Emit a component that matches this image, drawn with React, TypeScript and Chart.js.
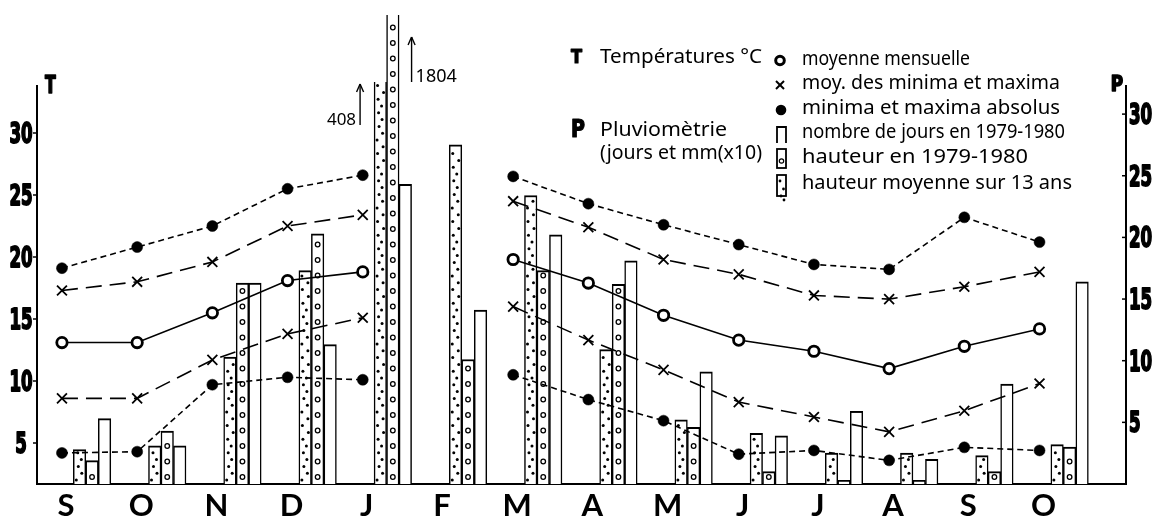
import React, { useEffect, useRef } from 'react';
import { Chart, registerables } from 'chart.js';

Chart.register(...registerables);

// ---------- data ----------
const monthLabels = ['S', 'O', 'N', 'D', 'J', 'F', 'M', 'A', 'M', 'J', 'J', 'A', 'S', 'O'];

// Temperatures (°C) – February has no readings
const tempMoyenne = [13.1, 13.1, 15.5, 18.1, 18.8, null, 19.8, 17.9, 15.3, 13.3, 12.4, 11.0, 12.8, 14.2];
const tempMoyMax = [17.3, 18.0, 19.6, 22.5, 23.4, null, 24.5, 22.4, 19.8, 18.6, 16.9, 16.6, 17.6, 18.8];
const tempMoyMin = [8.6, 8.6, 11.7, 13.8, 15.1, null, 16.0, 13.3, 10.9, 8.3, 7.1, 5.9, 7.6, 9.8];
const tempAbsMax = [19.1, 20.8, 22.5, 25.5, 26.6, null, 26.5, 24.3, 22.6, 21.0, 19.4, 19.0, 23.2, 21.2];
const tempAbsMin = [4.2, 4.3, 9.7, 10.3, 10.1, null, 10.5, 8.5, 6.8, 4.1, 4.4, 3.6, 4.65, 4.4];

// Pluviométrie (jours, and mm / 10)
const pluieMoyenne13ans = [2.8, 3.1, 10.3, 17.3, 40.8, 27.5, 23.4, 10.9, 5.2, 4.1, 2.5, 2.5, 2.3, 3.2];
const pluie1979_1980 = [1.9, 4.3, 16.3, 20.3, 180.4, 10.1, 17.3, 16.2, 4.6, 1.0, 0.3, 0.3, 1.0, 3.0];
const joursPluie1979_1980 = [5.3, 3.1, 16.3, 11.3, 24.3, 14.1, 20.2, 18.1, 9.1, 3.9, 5.9, 2.0, 8.1, 16.4];

const tTicks = [5, 10, 15, 20, 25, 30];
const pTicks = [5, 10, 15, 20, 25, 30];

const GROUP_OFFSET = 0.4;

const BOLD_COND = '"Liberation Sans Narrow", "DejaVu Sans Condensed", "DejaVu Sans"';

// ---------- helpers ----------
function drawScaled(ctx: CanvasRenderingContext2D, text: string, x: number, y: number, font: string, sx: number, align: CanvasTextAlign, heavy = 0) {
  ctx.save();
  ctx.font = font;
  ctx.textAlign = align;
  ctx.textBaseline = 'alphabetic';
  ctx.translate(x, y);
  ctx.scale(sx, 1);
  ctx.fillText(text, 0, 0);
  if (heavy > 0) {
    ctx.lineWidth = heavy;
    ctx.lineJoin = 'round';
    ctx.strokeText(text, 0, 0);
  }
  ctx.restore();
}

function drawFit(ctx: CanvasRenderingContext2D, text: string, x: number, y: number, width: number, size: number) {
  ctx.save();
  ctx.font = `${size}px "Noto Sans"`;
  ctx.textAlign = 'left';
  ctx.textBaseline = 'alphabetic';
  const w = ctx.measureText(text).width;
  ctx.translate(x, y);
  ctx.scale(width / w, 1);
  ctx.fillText(text, 0, 0);
  ctx.restore();
}

function seg(ctx: CanvasRenderingContext2D, x1: number, y1: number, x2: number, y2: number) {
  ctx.beginPath();
  ctx.moveTo(x1, y1);
  ctx.lineTo(x2, y2);
  ctx.stroke();
}

// ---------- plugins ----------
const barDecorPlugin = {
  id: 'barDecor',
  afterDatasetDraw(chart: any, args: any) {
    const ds: any = chart.data.datasets[args.index];
    if (!ds.decor) return;
    const ctx = chart.ctx as CanvasRenderingContext2D;
    const area = chart.chartArea;
    const clipTop = area.top - (ds.clip && typeof ds.clip.top === 'number' ? ds.clip.top : 0);
    ctx.save();
    ctx.fillStyle = '#000';
    ctx.strokeStyle = '#000';
    args.meta.data.forEach((el: any) => {
      const p = el.getProps(['x', 'y', 'base', 'width'], true);
      const left = p.x - p.width / 2;
      const w = p.width;
      const top = Math.max(Math.min(p.y, p.base), clipTop);
      const bottom = Math.max(p.y, p.base);
      if (ds.decor === 'circles') {
        ctx.lineWidth = 1.3;
        const r = 2.3;
        for (let cy = bottom - 7; cy - r >= top + 2; cy -= 15.5) {
          ctx.beginPath();
          ctx.arc(p.x, cy, r, 0, Math.PI * 2);
          ctx.stroke();
        }
      } else {
        let k = 0;
        for (let cy = bottom - 4; cy >= top + 3; cy -= 6.8, k++) {
          const jitter = (((k * 7) % 5) - 2) * 0.5;
          const cx = left + w * (k % 2 === 0 ? 0.32 : 0.68) + jitter;
          ctx.beginPath();
          ctx.arc(cx, cy, 1.5, 0, Math.PI * 2);
          ctx.fill();
        }
      }
    });
    ctx.restore();
  },
};

const overlayPlugin = {
  id: 'overlay',
  afterDraw(chart: any) {
    const ctx = chart.ctx as CanvasRenderingContext2D;
    const area = chart.chartArea;
    const xs = chart.scales.x;
    const ys = chart.scales.y;
    const ps = chart.scales.p;
    ctx.save();
    ctx.fillStyle = '#000';
    ctx.strokeStyle = '#000';

    // tick marks + labels
    ctx.lineWidth = 1.5;
    const digitFont = `bold 28px ${BOLD_COND}`;
    tTicks.forEach((v) => {
      const py = ys.getPixelForValue(v);
      ctx.lineWidth = 1.5;
      seg(ctx, area.left - 4, py, area.left, py);
      drawScaled(ctx, String(v), 21, py + 10, digitFont, 0.66, 'center', 1.8);
    });
    pTicks.forEach((v) => {
      const py = ps.getPixelForValue(v);
      ctx.lineWidth = 1.5;
      seg(ctx, area.right - 4, py, area.right, py);
      drawScaled(ctx, String(v), area.right + 3, py + 10, digitFont, 0.66, 'left', 1.8);
    });

    // month labels
    ctx.font = 'bold 31px Lato';
    ctx.textAlign = 'center';
    ctx.textBaseline = 'alphabetic';
    monthLabels.forEach((m, i) => {
      ctx.fillText(m, xs.getPixelForValue(i) + 4, 516);
    });

    // axis titles
    drawScaled(ctx, 'T', area.left + 8, 93, `bold 25px ${BOLD_COND}`, 0.7, 'left', 1.6);
    drawScaled(ctx, 'P', area.right - 3, 91, `bold 22px ${BOLD_COND}`, 0.85, 'right', 1.6);

    // legend titles
    drawScaled(ctx, 'T', 571, 63, `bold 20px ${BOLD_COND}`, 0.9, 'left', 1.2);
    drawFit(ctx, 'Températures °C', 600, 63, 162, 20);
    drawScaled(ctx, 'P', 571, 137, `bold 25px ${BOLD_COND}`, 0.85, 'left', 1.2);
    drawFit(ctx, 'Pluviomètrie', 600, 136, 127, 20);
    drawFit(ctx, '(jours et mm(x10)', 600, 159, 162, 20);

    // legend entries
    drawFit(ctx, 'moyenne mensuelle', 802, 65, 168, 19);
    drawFit(ctx, 'moy. des minima et maxima', 802, 89, 258, 19);
    drawFit(ctx, 'minima et maxima absolus', 802, 114, 258, 19);
    drawFit(ctx, 'nombre de jours en 1979-1980', 802, 138, 263, 19);
    drawFit(ctx, 'hauteur en 1979-1980', 802, 163, 226, 19);
    drawFit(ctx, 'hauteur moyenne sur 13 ans', 802, 189, 270, 19);

    // legend markers
    ctx.lineWidth = 3;
    ctx.beginPath();
    ctx.arc(780, 60.5, 4.3, 0, Math.PI * 2);
    ctx.stroke();
    ctx.lineWidth = 2;
    seg(ctx, 776, 81, 784, 89);
    seg(ctx, 784, 81, 776, 89);
    ctx.beginPath();
    ctx.arc(781, 110, 5.3, 0, Math.PI * 2);
    ctx.fill();
    ctx.lineWidth = 1.8;
    ctx.beginPath();
    ctx.moveTo(777, 143);
    ctx.lineTo(777, 127);
    ctx.lineTo(786, 127);
    ctx.lineTo(786, 143);
    ctx.stroke();
    ctx.strokeRect(777, 149, 9, 19);
    ctx.lineWidth = 1.2;
    ctx.beginPath();
    ctx.arc(781.5, 161, 2.2, 0, Math.PI * 2);
    ctx.stroke();
    ctx.lineWidth = 1.8;
    ctx.strokeRect(777, 175, 9, 21);
    [[780, 181], [783.5, 189], [781, 196], [784, 200]].forEach(([dx, dy]) => {
      ctx.beginPath();
      ctx.arc(dx, dy, 1.4, 0, Math.PI * 2);
      ctx.fill();
    });

    // off-scale annotations for January
    const dotMeta = chart.getDatasetMeta(5);
    const cirMeta = chart.getDatasetMeta(6);
    const jDot = dotMeta.data[4].getProps(['x', 'width'], true);
    const jCir = cirMeta.data[4].getProps(['x', 'width'], true);
    ctx.lineWidth = 1.4;
    const ax1 = jDot.x - jDot.width / 2 - 14;
    seg(ctx, ax1, 84, ax1, 125);
    seg(ctx, ax1 - 3.5, 92, ax1, 84);
    seg(ctx, ax1 + 3.5, 92, ax1, 84);
    ctx.font = '17px "Noto Sans"';
    ctx.textAlign = 'right';
    ctx.textBaseline = 'alphabetic';
    ctx.fillText(String(Math.round(pluieMoyenne13ans[4] * 10)), ax1 - 4, 125);
    const ax2 = jCir.x + jCir.width / 2 + 12.5;
    seg(ctx, ax2, 37, ax2, 82);
    seg(ctx, ax2 - 3.5, 45, ax2, 37);
    seg(ctx, ax2 + 3.5, 45, ax2, 37);
    ctx.font = '18px "Noto Sans"';
    ctx.textAlign = 'left';
    ctx.fillText(String(Math.round(pluie1979_1980[4] * 10)), ax2 + 4, 82);

    ctx.restore();
  },
};

// ---------- datasets ----------
function lineDs(label: string, values: (number | null)[], style: any) {
  return {
    type: 'line',
    label,
    data: values.map((v, i) => ({ x: i, y: v })),
    xAxisID: 'x',
    yAxisID: 'y',
    order: 1,
    spanGaps: false,
    borderColor: '#000',
    borderWidth: 1.6,
    tension: 0,
    fill: false,
    pointBorderColor: '#000',
    ...style,
  };
}

function barDs(label: string, values: number[], decor: string | null, clipTop: number) {
  return {
    type: 'bar',
    label,
    data: values.map((v, i) => ({ x: i + GROUP_OFFSET, y: v })),
    xAxisID: 'x',
    yAxisID: 'p',
    order: 10,
    backgroundColor: '#fff',
    borderColor: '#000',
    borderWidth: { top: 2, left: 1.5, right: 1.5, bottom: 0 },
    borderSkipped: 'start',
    barThickness: 12.5,
    grouped: true,
    clip: { left: false, top: clipTop, right: false, bottom: 0 },
    decor,
  };
}

export default function App() {
  const ref = useRef<HTMLCanvasElement>(null);

  useEffect(() => {
    const canvas = ref.current;
    if (!canvas) return;
    const chart = new Chart(canvas, {
      type: 'line',
      data: {
        datasets: [
          lineDs('minima et maxima absolus (max)', tempAbsMax, {
            borderDash: [6, 4], pointStyle: 'circle', pointRadius: 5.5, pointBackgroundColor: '#000', pointBorderWidth: 0.5,
          }),
          lineDs('moy. des maxima', tempMoyMax, {
            borderDash: [16, 8], pointStyle: 'crossRot', pointRadius: 7, pointBorderWidth: 1.8, pointBackgroundColor: '#000',
          }),
          lineDs('moyenne mensuelle', tempMoyenne, {
            pointStyle: 'circle', pointRadius: 5.2, pointBorderWidth: 2.8, pointBackgroundColor: '#fff',
          }),
          lineDs('moy. des minima', tempMoyMin, {
            borderDash: [16, 8], pointStyle: 'crossRot', pointRadius: 7, pointBorderWidth: 1.8, pointBackgroundColor: '#000',
          }),
          lineDs('minima et maxima absolus (min)', tempAbsMin, {
            borderDash: [6, 4], pointStyle: 'circle', pointRadius: 5.5, pointBackgroundColor: '#000', pointBorderWidth: 0.5,
          }),
          barDs('hauteur moyenne sur 13 ans', pluieMoyenne13ans, 'dots', 4),
          barDs('hauteur en 1979-1980', pluie1979_1980, 'circles', 71),
          barDs('nombre de jours en 1979-1980', joursPluie1979_1980, null, 0),
        ] as any,
      },
      options: {
        responsive: false,
        devicePixelRatio: 1,
        animation: false,
        events: [],
        layout: { padding: { top: 86, left: 0, right: 0, bottom: 0 } },
        plugins: { legend: { display: false }, tooltip: { enabled: false }, title: { display: false } },
        scales: {
          x: {
            type: 'linear',
            min: -0.332,
            max: 14.15,
            offset: false,
            grid: { display: false, offset: false },
            border: { display: true, color: '#000', width: 2 },
            ticks: { display: false },
            afterBuildTicks: (s: any) => { s.ticks = monthLabels.map((_, i) => ({ value: i })); },
            afterFit: (s: any) => { s.height = 35; },
          },
          y: {
            type: 'linear',
            position: 'left',
            min: 1.694,
            max: 33.79,
            grid: { display: false },
            border: { display: true, color: '#000', width: 2 },
            ticks: { display: false },
            afterBuildTicks: (s: any) => { s.ticks = tTicks.map((v) => ({ value: v })); },
            afterFit: (s: any) => { s.width = 37; },
          },
          p: {
            type: 'linear',
            position: 'right',
            min: 0,
            max: 32.28,
            grid: { display: false },
            border: { display: true, color: '#000', width: 2 },
            ticks: { display: false },
            afterBuildTicks: (s: any) => { s.ticks = pTicks.map((v) => ({ value: v })); },
            afterFit: (s: any) => { s.width = 29; },
          },
        },
      } as any,
      plugins: [barDecorPlugin, overlayPlugin],
    });
    return () => chart.destroy();
  }, []);

  return (
    <div style={{ position: 'absolute', left: 0, top: 0, width: 1155, height: 519, background: '#fff' }}>
      <canvas ref={ref} width={1155} height={519} style={{ display: 'block', width: 1155, height: 519 }} />
    </div>
  );
}
